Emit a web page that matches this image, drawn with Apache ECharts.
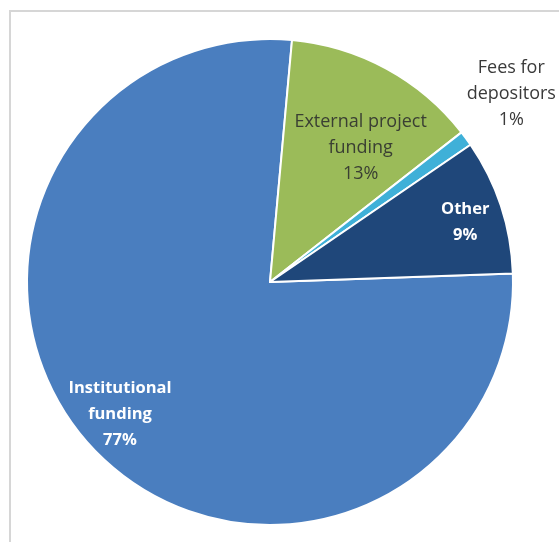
<!DOCTYPE html>
<html>
<head>
<meta charset="utf-8">
<script src="https://cdn.jsdelivr.net/npm/echarts@6/dist/echarts.min.js"></script>
<style>
  html, body { margin: 0; padding: 0; background: #ffffff; }
  #chart { width: 559px; height: 542px; }
</style>
</head>
<body>
<div id="chart"></div>
<script>
// Funding sources, in percent
const categories = ['Institutional\nfunding', 'External project\nfunding', 'Fees for\ndepositors', 'Other'];
const shares = [77, 13, 1, 9];

// Presentation
const sliceColors = ['#4a7ebf', '#9bbb59', '#3fb0d8', '#1f477a'];
const labelColors = ['#ffffff', '#3a3f33', '#3a3a3a', '#ffffff'];
const labelWeights = ['bold', 'normal', 'normal', 'bold'];
const labelSizes = [16.5, 18, 18, 16.5];
// label placement: fraction of radius and angle nudge (deg) from each slice's mid-angle
const labelRadius = [0.823, 0.667, 1.26, 0.84];
const labelAngleShift = [2, 5.4, -1.8, 1.2];

const CENTER = [270, 282];
const RADIUS = 243;
const START = 2; // degrees counter-clockwise from 3 o'clock

const total = shares.reduce((a, b) => a + b, 0);
// mid-angle of each slice, measured clockwise from 12 o'clock
const midAngles = [];
let acc = 90 - START;
shares.forEach(v => {
  const span = v / total * 360;
  midAngles.push(acc + span / 2);
  acc += span;
});

const chart = echarts.init(document.getElementById('chart'), null, { renderer: 'canvas' });

chart.setOption({
  backgroundColor: '#ffffff',
  animation: false,
  graphic: [{
    type: 'rect',
    shape: { x: 10, y: 11, width: 620, height: 620 },
    style: { fill: 'none', stroke: '#d6d6d6', lineWidth: 2 },
    silent: true
  }],
  series: [{
    type: 'pie',
    center: CENTER,
    radius: RADIUS,
    startAngle: START,
    clockwise: true,
    avoidLabelOverlap: false,
    itemStyle: { borderColor: '#ffffff', borderWidth: 2 },
    label: {
      show: true,
      position: 'inside',
      fontFamily: 'Open Sans',
      lineHeight: 26,
      align: 'center',
      verticalAlign: 'middle',
      formatter: p => p.name + '\n' + p.value + '%'
    },
    labelLine: { show: false },
    labelLayout: params => {
      const i = params.dataIndex;
      const a = (midAngles[i] + labelAngleShift[i]) * Math.PI / 180;
      const r = RADIUS * labelRadius[i];
      return {
        x: CENTER[0] + r * Math.sin(a),
        y: CENTER[1] - r * Math.cos(a),
        align: 'center',
        verticalAlign: 'middle'
      };
    },
    data: categories.map((name, i) => ({
      name,
      value: shares[i],
      itemStyle: { color: sliceColors[i] },
      label: { color: labelColors[i], fontWeight: labelWeights[i], fontSize: labelSizes[i] }
    }))
  }]
});
</script>
</body>
</html>
